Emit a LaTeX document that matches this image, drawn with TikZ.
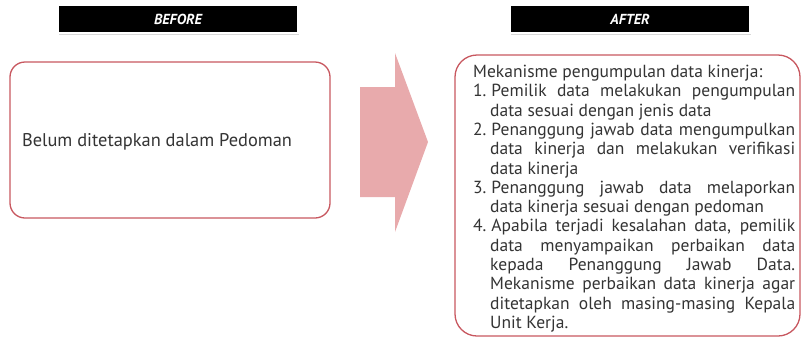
\documentclass[tikz,border=0pt]{standalone}
\usepackage{fontspec}
\setmainfont{PT Sans}
\usepackage{enumitem}
\usepackage{tikz}
\usetikzlibrary{positioning,shadows}
\usepackage{xcolor}
\definecolor{boxred}{RGB}{200,88,96}
\definecolor{arrowpink}{RGB}{232,170,172}
\definecolor{bodytext}{RGB}{52,52,52}

\begin{document}
\begin{tikzpicture}[
  x=1pt, y=-1pt,
  header/.style={fill=black, draw=white, line width=1.2pt, text=white,
                 minimum width=240pt, minimum height=28pt, inner sep=0pt,
                 font=\fontsize{14.5}{17}\selectfont\bfseries\itshape,
                 drop shadow={shadow xshift=1pt, shadow yshift=-2pt, fill=black!30}},
  panel/.style={draw=boxred, line width=1.3pt, fill=white, inner sep=0pt},
  bodyfont/.style={font=\fontsize{17.5}{19.3}\selectfont, text=bodytext},
  bigarrow/.style={fill=arrowpink, draw=none}
]
  \useasboundingbox (0,0) rectangle (802,338);

  % --- Column headers ---
  \node[header] (beforehead) at (178,19) {BEFORE};
  \node[header] (afterhead) at (630,19) {AFTER};

  % --- Panels ---
  \node[panel, rounded corners=15pt, minimum width=320pt, minimum height=156pt]
       (beforebox) at (170,140) {};
  \node[panel, rounded corners=22pt, minimum width=345pt, minimum height=281pt]
       (afterbox) at (627.5,195.5) {};

  % --- Panel texts ---
  \node[bodyfont, font=\fontsize{18.4}{20}\selectfont, anchor=west, inner sep=0pt]
       (beforetext) at ([xshift=12.5pt, yshift=-2pt]beforebox.west)
       {Belum ditetapkan dalam Pedoman};
  \node[bodyfont, anchor=north west, inner sep=0pt] (aftertext) at (473,65) {%
    \begin{minipage}{322pt}
      \setlength{\parindent}{0pt}%
      Mekanisme pengumpulan data kinerja:
      \begin{enumerate}[nosep, label=\arabic*., leftmargin=17pt,
                        labelwidth=12pt, labelsep=5pt, align=left]
        \item Pemilik data melakukan pengumpulan\linebreak
              data sesuai dengan jenis data
        \item Penanggung jawab data mengumpulkan\linebreak
              data kinerja dan melakukan verifikasi\linebreak
              data kinerja
        \item Penanggung jawab data melaporkan\linebreak
              data kinerja sesuai dengan pedoman
        \item Apabila terjadi kesalahan data, pemilik\linebreak
              data menyampaikan perbaikan data\linebreak
              kepada Penanggung Jawab Data.\linebreak
              Mekanisme perbaikan data kinerja agar\linebreak
              ditetapkan oleh masing-masing Kepala\linebreak
              Unit Kerja.
      \end{enumerate}
    \end{minipage}};

  % --- Block arrow between panels ---
  \fill[bigarrow] (360,87) -- (395,87) -- (395,53) -- (428,142)
       -- (395,232) -- (395,197) -- (360,197) -- cycle;
\end{tikzpicture}
\end{document}
